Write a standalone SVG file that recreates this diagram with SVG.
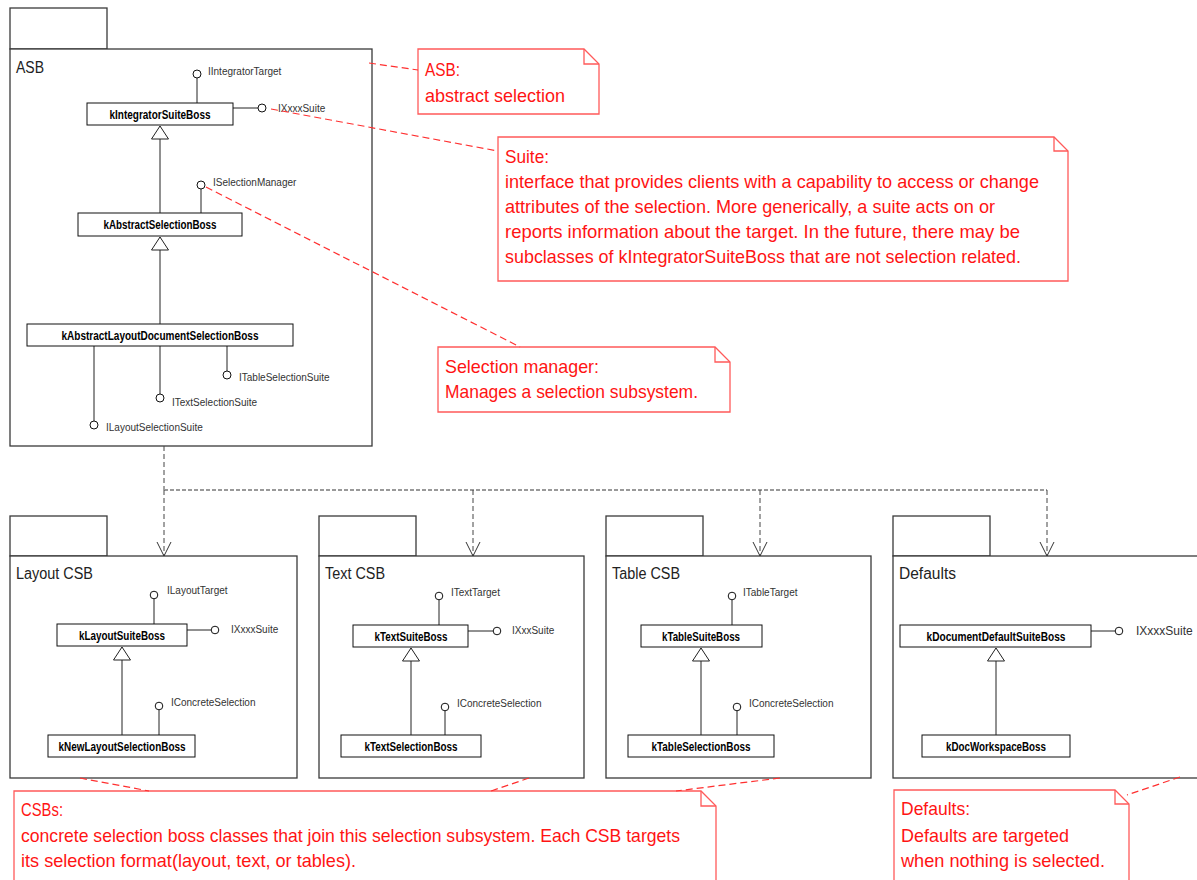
<svg xmlns="http://www.w3.org/2000/svg" width="1197" height="880" viewBox="0 0 1197 880">
<style>
.pkg{fill:#fff;stroke:#3a3a3a;stroke-width:1.3}
.pkgname{font-family:"Liberation Sans",Arial,sans-serif;font-size:16px;fill:#222}
.cls{fill:#fff;stroke:#111;stroke-width:1}
.clsname{font-family:"Liberation Sans",Arial,sans-serif;font-size:12px;font-weight:bold;fill:#000;text-anchor:middle}
.lp{fill:#fff;stroke:#111;stroke-width:1}
.stem{stroke:#222;stroke-width:1;fill:none}
.iname{font-family:"Liberation Sans",Arial,sans-serif;font-size:10px;fill:#333}
.gen{stroke:#222;stroke-width:1;fill:none}
.dep{stroke:#444;stroke-width:1;stroke-dasharray:5 3;fill:none}
.deph{stroke:#999;stroke-width:2;stroke-dasharray:4 2;fill:none}
.note{fill:#fff;stroke:#ff5a5a;stroke-width:1.3}
.fold{fill:none;stroke:#ff5a5a;stroke-width:1.3}
.ntext{font-family:"Liberation Sans",Arial,sans-serif;font-size:18.5px;fill:#ff1414}
.link{stroke:#ff3030;stroke-width:1.2;stroke-dasharray:7 4;fill:none}
</style>
<defs>
<marker id="tri" viewBox="-1 -10 16 20" refX="13" refY="0" markerWidth="16" markerHeight="20" markerUnits="userSpaceOnUse" orient="auto"><path d="M0,-8.5 L13,0 L0,8.5 Z" fill="#fff" stroke="#222" stroke-width="1"/></marker>
<marker id="open" viewBox="-15 -8 17 16" refX="0" refY="0" markerWidth="17" markerHeight="16" markerUnits="userSpaceOnUse" orient="auto"><path d="M-14,-7 L0,0 L-14,7" fill="none" stroke="#333" stroke-width="1" stroke-dasharray="none"/></marker>
</defs>
<rect width="1197" height="880" fill="#fff"/>

<!-- Packages -->
<g id="pkg-asb">
<rect class="pkg" x="10" y="8" width="97" height="41"/>
<rect class="pkg" x="10" y="49" width="362" height="397"/>
<text class="pkgname" x="16" y="73" textLength="28" lengthAdjust="spacingAndGlyphs">ASB</text>
</g>
<g id="pkg-layout">
<rect class="pkg" x="10" y="516" width="97" height="40"/>
<rect class="pkg" x="10" y="556" width="287" height="222"/>
<text class="pkgname" x="16" y="579" textLength="77" lengthAdjust="spacingAndGlyphs">Layout CSB</text>
</g>
<g id="pkg-text">
<rect class="pkg" x="319" y="516" width="97" height="40"/>
<rect class="pkg" x="319" y="556" width="265" height="222"/>
<text class="pkgname" x="325" y="579" textLength="60" lengthAdjust="spacingAndGlyphs">Text CSB</text>
</g>
<g id="pkg-table">
<rect class="pkg" x="606" y="516" width="97" height="40"/>
<rect class="pkg" x="606" y="556" width="265" height="222"/>
<text class="pkgname" x="612" y="579" textLength="68" lengthAdjust="spacingAndGlyphs">Table CSB</text>
</g>
<g id="pkg-defaults">
<rect class="pkg" x="893" y="516" width="97" height="40"/>
<rect class="pkg" x="893" y="556" width="320" height="222"/>
<text class="pkgname" x="899" y="579" textLength="57" lengthAdjust="spacingAndGlyphs">Defaults</text>
</g>

<!-- Classes -->
<g id="kIntegratorSuiteBoss">
<path class="stem" d="M197,103 V78 M233,108 H258"/>
<circle class="lp" cx="197" cy="74" r="4"/>
<circle class="lp" cx="262" cy="108" r="4"/>
<text class="iname" x="208" y="75">IIntegratorTarget</text>
<text class="iname" x="278" y="112">IXxxxSuite</text>
<rect class="cls" x="87" y="103" width="146" height="22"/>
<text class="clsname" x="160" y="118.5" textLength="101" lengthAdjust="spacingAndGlyphs">kIntegratorSuiteBoss</text>
</g>
<g id="kAbstractSelectionBoss">
<path class="stem" d="M201,213 V189"/>
<circle class="lp" cx="201" cy="185" r="4"/>
<text class="iname" x="213" y="186">ISelectionManager</text>
<rect class="cls" x="78" y="213" width="164" height="23"/>
<text class="clsname" x="160" y="229" textLength="113" lengthAdjust="spacingAndGlyphs">kAbstractSelectionBoss</text>
</g>
<g id="kAbstractLayoutDocumentSelectionBoss">
<path class="stem" d="M94,346 V421 M160,346 V394 M227,346 V371"/>
<circle class="lp" cx="94" cy="425" r="4"/>
<circle class="lp" cx="160" cy="398" r="4"/>
<circle class="lp" cx="227" cy="375" r="4"/>
<text class="iname" x="106" y="431">ILayoutSelectionSuite</text>
<text class="iname" x="172" y="406">ITextSelectionSuite</text>
<text class="iname" x="239" y="381">ITableSelectionSuite</text>
<rect class="cls" x="27" y="324" width="266" height="22"/>
<text class="clsname" x="160" y="339.5" textLength="197" lengthAdjust="spacingAndGlyphs">kAbstractLayoutDocumentSelectionBoss</text>
</g>

<g id="kLayoutSuiteBoss">
<path class="stem" d="M154,624 V599 M187,630 H211"/>
<circle class="lp" cx="154" cy="595" r="3.8"/>
<circle class="lp" cx="215" cy="630" r="3.8"/>
<text class="iname" x="167" y="594">ILayoutTarget</text>
<text class="iname" x="231" y="633">IXxxxSuite</text>
<rect class="cls" x="57" y="624" width="130" height="22"/>
<text class="clsname" x="122" y="639.5" textLength="86" lengthAdjust="spacingAndGlyphs">kLayoutSuiteBoss</text>
</g>
<g id="kNewLayoutSelectionBoss">
<path class="stem" d="M159,735 V710"/>
<circle class="lp" cx="159" cy="706" r="3.8"/>
<text class="iname" x="171" y="706">IConcreteSelection</text>
<rect class="cls" x="48" y="735" width="147" height="22"/>
<text class="clsname" x="122" y="750.5" textLength="127" lengthAdjust="spacingAndGlyphs">kNewLayoutSelectionBoss</text>
</g>

<g id="kTextSuiteBoss">
<path class="stem" d="M439,625 V600 M468,631 H493"/>
<circle class="lp" cx="439" cy="596" r="3.8"/>
<circle class="lp" cx="497" cy="631" r="3.8"/>
<text class="iname" x="451" y="596">ITextTarget</text>
<text class="iname" x="512" y="634">IXxxSuite</text>
<rect class="cls" x="353" y="625" width="115" height="22"/>
<text class="clsname" x="411" y="640.5" textLength="73" lengthAdjust="spacingAndGlyphs">kTextSuiteBoss</text>
</g>
<g id="kTextSelectionBoss">
<path class="stem" d="M445,735 V711"/>
<circle class="lp" cx="445" cy="707" r="3.8"/>
<text class="iname" x="457" y="707">IConcreteSelection</text>
<rect class="cls" x="341" y="735" width="140" height="22"/>
<text class="clsname" x="411" y="750.5" textLength="93" lengthAdjust="spacingAndGlyphs">kTextSelectionBoss</text>
</g>

<g id="kTableSuiteBoss">
<path class="stem" d="M732,625 V600"/>
<circle class="lp" cx="732" cy="596" r="3.8"/>
<text class="iname" x="743" y="596">ITableTarget</text>
<rect class="cls" x="641" y="625" width="121" height="22"/>
<text class="clsname" x="701" y="640.5" textLength="78" lengthAdjust="spacingAndGlyphs">kTableSuiteBoss</text>
</g>
<g id="kTableSelectionBoss">
<path class="stem" d="M737,735 V711"/>
<circle class="lp" cx="737" cy="707" r="3.8"/>
<text class="iname" x="749" y="707">IConcreteSelection</text>
<rect class="cls" x="628" y="735" width="146" height="22"/>
<text class="clsname" x="701" y="750.5" textLength="99" lengthAdjust="spacingAndGlyphs">kTableSelectionBoss</text>
</g>

<g id="kDocumentDefaultSuiteBoss">
<path class="stem" d="M1091,631 H1115"/>
<circle class="lp" cx="1119" cy="631" r="3.8"/>
<text class="iname" x="1136" y="635" style="font-size:12px">IXxxxSuite</text>
<rect class="cls" x="900" y="625" width="191" height="22"/>
<text class="clsname" x="996" y="640.5" textLength="139" lengthAdjust="spacingAndGlyphs">kDocumentDefaultSuiteBoss</text>
</g>
<g id="kDocWorkspaceBoss">
<rect class="cls" x="922" y="735" width="148" height="22"/>
<text class="clsname" x="996" y="750.5" textLength="100" lengthAdjust="spacingAndGlyphs">kDocWorkspaceBoss</text>
</g>

<!-- Notes -->
<g id="note-asb">
<path class="note" d="M418,49 H584 L599,64 V114 H418 Z"/>
<path class="fold" d="M584,49 V64 H599"/>
<text class="ntext" x="425" y="76" textLength="35" lengthAdjust="spacingAndGlyphs">ASB:</text>
<text class="ntext" x="425" y="102" textLength="140" lengthAdjust="spacingAndGlyphs">abstract selection</text>
</g>
<g id="note-suite">
<path class="note" d="M498,137 H1054 L1068,151 V281 H498 Z"/>
<path class="fold" d="M1054,137 V151 H1068"/>
<text class="ntext" x="505" y="163" textLength="44" lengthAdjust="spacingAndGlyphs">Suite:</text>
<text class="ntext" x="505" y="188" textLength="534" lengthAdjust="spacingAndGlyphs">interface that provides clients with a capability to access or change</text>
<text class="ntext" x="505" y="213" textLength="490" lengthAdjust="spacingAndGlyphs">attributes of the selection. More generically, a suite acts on or</text>
<text class="ntext" x="505" y="238" textLength="515" lengthAdjust="spacingAndGlyphs">reports information about the target. In the future, there may be</text>
<text class="ntext" x="505" y="263" textLength="516" lengthAdjust="spacingAndGlyphs">subclasses of kIntegratorSuiteBoss that are not selection related.</text>
</g>
<g id="note-selmgr">
<path class="note" d="M438,347 H715 L730,362 V412 H438 Z"/>
<path class="fold" d="M715,347 V362 H730"/>
<text class="ntext" x="445" y="373" textLength="154" lengthAdjust="spacingAndGlyphs">Selection manager:</text>
<text class="ntext" x="445" y="398" textLength="253" lengthAdjust="spacingAndGlyphs">Manages a selection subsystem.</text>
</g>
<g id="note-csbs">
<path class="note" d="M14,791 H701 L716,806 V890 H14 Z"/>
<path class="fold" d="M701,791 V806 H716"/>
<text class="ntext" x="21" y="816" textLength="42" lengthAdjust="spacingAndGlyphs">CSBs:</text>
<text class="ntext" x="21" y="842" textLength="659" lengthAdjust="spacingAndGlyphs">concrete selection boss classes that join this selection subsystem. Each CSB targets</text>
<text class="ntext" x="21" y="867" textLength="335" lengthAdjust="spacingAndGlyphs">its selection format(layout, text, or tables).</text>
</g>
<g id="note-defaults">
<path class="note" d="M894,790 H1115 L1129,804 V890 H894 Z"/>
<path class="fold" d="M1115,790 V804 H1129"/>
<text class="ntext" x="901" y="815" textLength="69" lengthAdjust="spacingAndGlyphs">Defaults:</text>
<text class="ntext" x="901" y="842" textLength="168" lengthAdjust="spacingAndGlyphs">Defaults are targeted</text>
<text class="ntext" x="901" y="867" textLength="204" lengthAdjust="spacingAndGlyphs">when nothing is selected.</text>
</g>

<!-- Connectors -->
<g id="connectors">
<path class="gen" d="M160,213 V126" marker-end="url(#tri)"/>
<path class="gen" d="M160,324 V237" marker-end="url(#tri)"/>
<path class="gen" d="M122,735 V647" marker-end="url(#tri)"/>
<path class="gen" d="M411,735 V648" marker-end="url(#tri)"/>
<path class="gen" d="M701,735 V648" marker-end="url(#tri)"/>
<path class="gen" d="M996,735 V648" marker-end="url(#tri)"/>
<path class="dep" d="M164,446 V490"/>
<path class="deph" d="M164,490 H1047"/>
<path class="dep" d="M164,490 V556" marker-end="url(#open)"/>
<path class="dep" d="M473,490 V556" marker-end="url(#open)"/>
<path class="dep" d="M760,490 V556" marker-end="url(#open)"/>
<path class="dep" d="M1047,490 V556" marker-end="url(#open)"/>
<path class="link" d="M369,63 L418,70"/>
<path class="link" d="M271,109 L498,151"/>
<path class="link" d="M206,187 L520,347"/>
<path class="link" d="M80,778 L149,791"/>
<path class="link" d="M529,778 L491,791"/>
<path class="link" d="M780,778 L676,791"/>
<path class="link" d="M1180,777 L1127,795"/>
</g>
</svg>
